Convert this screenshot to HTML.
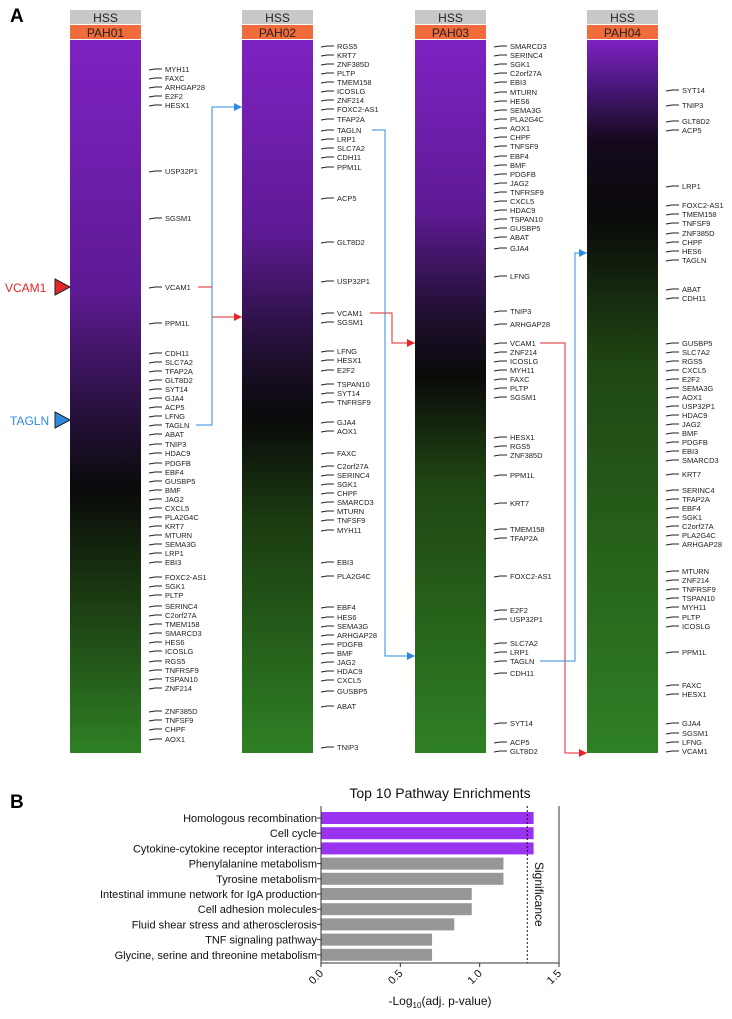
<!DOCTYPE html>
<html><head><meta charset="utf-8"><style>
body{margin:0;background:#fff;font-family:"Liberation Sans",sans-serif;}
svg{display:block}
</style></head><body>
<svg id="fig" width="732" height="1019" viewBox="0 0 732 1019">
<defs>
<linearGradient id="g0" x1="0" y1="0" x2="0" y2="1">
<stop offset="0" stop-color="#7d22c2"/><stop offset="0.35" stop-color="#5e1a94"/><stop offset="0.54" stop-color="#221034"/><stop offset="0.63" stop-color="#0a0a0a"/><stop offset="0.75" stop-color="#17300f"/><stop offset="1" stop-color="#2f8024"/></linearGradient>
<linearGradient id="g1" x1="0" y1="0" x2="0" y2="1">
<stop offset="0" stop-color="#7d22c2"/><stop offset="0.27" stop-color="#5e1a94"/><stop offset="0.43" stop-color="#221034"/><stop offset="0.53" stop-color="#0a0a0a"/><stop offset="0.67" stop-color="#1a3a10"/><stop offset="1" stop-color="#2f8024"/></linearGradient>
<linearGradient id="g2" x1="0" y1="0" x2="0" y2="1">
<stop offset="0" stop-color="#7d22c2"/><stop offset="0.24" stop-color="#5e1a94"/><stop offset="0.38" stop-color="#221034"/><stop offset="0.47" stop-color="#0a0a0a"/><stop offset="0.62" stop-color="#1f4512"/><stop offset="1" stop-color="#2f8024"/></linearGradient>
<linearGradient id="g3" x1="0" y1="0" x2="0" y2="1">
<stop offset="0" stop-color="#7d22c2"/><stop offset="0.06" stop-color="#4e1880"/><stop offset="0.14" stop-color="#150a1e"/><stop offset="0.25" stop-color="#0a0a0a"/><stop offset="0.45" stop-color="#1f4512"/><stop offset="1" stop-color="#2f8024"/></linearGradient>
</defs>
<g id="panelA"></g>
<g id="panelB"></g>
</svg>
<script>
const NS="http://www.w3.org/2000/svg";
function mk(tag,attrs,parent,txt){const e=document.createElementNS(NS,tag);for(const k in attrs)e.setAttribute(k,attrs[k]);if(txt!==undefined)e.textContent=txt;parent.appendChild(e);return e;}
const A=document.getElementById('panelA');
const B=document.getElementById('panelB');

// Panel A data
const samples=["PAH01","PAH02","PAH03","PAH04"];
const colX=[70,242,415,587];
const genes1=[["MYH11",69],["FAXC",78],["ARHGAP28",87],["E2F2",96],["HESX1",105],["USP32P1",171],["SGSM1",218],["VCAM1",287],["PPM1L",323],["CDH11",353],["SLC7A2",362],["TFAP2A",371],["GLT8D2",380],["SYT14",389],["GJA4",398],["ACP5",407],["LFNG",416],["TAGLN",425],["ABAT",434],["TNIP3",444],["HDAC9",453],["PDGFB",463],["EBF4",472],["GUSBP5",481],["BMF",490],["JAG2",499],["CXCL5",508],["PLA2G4C",517],["KRT7",526],["MTURN",535],["SEMA3G",544],["LRP1",553],["EBI3",562],["FOXC2-AS1",577],["SGK1",586],["PLTP",595],["SERINC4",606],["C2orf27A",615],["TMEM158",624],["SMARCD3",633],["HES6",642],["ICOSLG",651],["RGS5",661],["TNFRSF9",670],["TSPAN10",679],["ZNF214",688],["ZNF385D",711],["TNFSF9",720],["CHPF",729],["AOX1",739]];
const genes2=[["RGS5",46],["KRT7",55],["ZNF385D",64],["PLTP",73],["TMEM158",82],["ICOSLG",91],["ZNF214",100],["FOXC2-AS1",109],["TFAP2A",119],["TAGLN",130],["LRP1",139],["SLC7A2",148],["CDH11",157],["PPM1L",167],["ACP5",198],["GLT8D2",242],["USP32P1",281],["VCAM1",313],["SGSM1",322],["LFNG",351],["HESX1",360],["E2F2",370],["TSPAN10",384],["SYT14",393],["TNFRSF9",402],["GJA4",422],["AOX1",431],["FAXC",453],["C2orf27A",466],["SERINC4",475],["SGK1",484],["CHPF",493],["SMARCD3",502],["MTURN",511],["TNFSF9",520],["MYH11",530],["EBI3",562],["PLA2G4C",576],["EBF4",607],["HES6",617],["SEMA3G",626],["ARHGAP28",635],["PDGFB",644],["BMF",653],["JAG2",662],["HDAC9",671],["CXCL5",680],["GUSBP5",691],["ABAT",706],["TNIP3",747]];
const genes3=[["SMARCD3",46],["SERINC4",55],["SGK1",64],["C2orf27A",73],["EBI3",82],["MTURN",92],["HES6",101],["SEMA3G",110],["PLA2G4C",119],["AOX1",128],["CHPF",137],["TNFSF9",146],["EBF4",156],["BMF",165],["PDGFB",174],["JAG2",183],["TNFRSF9",192],["CXCL5",201],["HDAC9",210],["TSPAN10",219],["GUSBP5",228],["ABAT",237],["GJA4",248],["LFNG",276],["TNIP3",311],["ARHGAP28",324],["VCAM1",343],["ZNF214",352],["ICOSLG",361],["MYH11",370],["FAXC",379],["PLTP",388],["SGSM1",397],["HESX1",437],["RGS5",446],["ZNF385D",455],["PPM1L",475],["KRT7",503],["TMEM158",529],["TFAP2A",538],["FOXC2-AS1",576],["E2F2",610],["USP32P1",619],["SLC7A2",643],["LRP1",652],["TAGLN",661],["CDH11",673],["SYT14",723],["ACP5",742],["GLT8D2",751]];
const genes4=[["SYT14",90],["TNIP3",105],["GLT8D2",121],["ACP5",130],["LRP1",186],["FOXC2-AS1",205],["TMEM158",214],["TNFSF9",223],["ZNF385D",233],["CHPF",242],["HES6",251],["TAGLN",260],["ABAT",289],["CDH11",298],["GUSBP5",343],["SLC7A2",352],["RGS5",361],["CXCL5",370],["E2F2",379],["SEMA3G",388],["AOX1",397],["USP32P1",406],["HDAC9",415],["JAG2",424],["BMF",433],["PDGFB",442],["EBI3",451],["SMARCD3",460],["KRT7",474],["SERINC4",490],["TFAP2A",499],["EBF4",508],["SGK1",517],["C2orf27A",526],["PLA2G4C",535],["ARHGAP28",544],["MTURN",571],["ZNF214",580],["TNFRSF9",589],["TSPAN10",598],["MYH11",607],["PLTP",617],["ICOSLG",626],["PPM1L",652],["FAXC",685],["HESX1",694],["GJA4",723],["SGSM1",733],["LFNG",742],["VCAM1",751]];
const geneLists=[genes1,genes2,genes3,genes4];

mk('text',{x:10,y:22,'font-size':19,'font-weight':'bold',fill:'#000',},A,'A');
const BW=71,barTop=40,barBot=753;
samples.forEach((s,i)=>{
  const x=colX[i];
  const g=mk('g',{},A);
  
  
  const h1=mk('rect',{x:x,y:10,width:BW,height:14,fill:'#c8c8c8'},g);
  
  
  mk('text',{x:x+BW/2,y:22,'text-anchor':'middle','font-size':12,fill:'#222'},g,'HSS');
  const h2=mk('rect',{x:x,y:25,width:BW,height:14,fill:'#f26b3a'},g);
  
  
  mk('text',{x:x+BW/2,y:37,'text-anchor':'middle','font-size':12,fill:'#222'},g,s);
  const hb=mk('rect',{x:x,y:barTop,width:BW,height:barBot-barTop,fill:'url(#g'+i+')'},g);
  
  
  geneLists[i].forEach(([n,y])=>{
    const lx=x+BW+8;
    mk('path',{d:`M${lx} ${y+1} L${lx+6} ${y} L${lx+13} ${y}`,stroke:'#222','stroke-width':1,fill:'none'},g);
    const t=mk('text',{x:lx+16,y:y+3,'font-size':7.5,fill:'#222'},g,n);
    
    
  });
});
const m1=mk('path',{d:'M55 279 L70 287 L55 295 Z',fill:'#e3262a',stroke:'#222','stroke-width':1},A);


mk('text',{x:5,y:292,'font-size':12,fill:'#e3262a'},A,'VCAM1');
const m2=mk('path',{d:'M55 412 L70 420 L55 428 Z',fill:'#2c8be0',stroke:'#222','stroke-width':1},A);


mk('text',{x:10,y:425,'font-size':12,fill:'#2c8be0'},A,'TAGLN');
function arrow(pts,col,name){
  const d='M'+pts.map(p=>p.join(' ')).join(' L');
  const p=mk('path',{d:d,stroke:col,'stroke-width':1,fill:'none'},A);
  
  
  const [ex,ey]=pts[pts.length-1];
  mk('path',{d:`M${ex} ${ey} L${ex-8} ${ey-4} L${ex-8} ${ey+4} Z`,fill:col},A);
}
arrow([[198,287],[212,287],[212,317],[242,317]],'#e3262a','vcam1-arrow-1');
arrow([[370,313],[392,313],[392,343],[415,343]],'#e3262a','vcam1-arrow-2');
arrow([[540,343],[565,343],[565,753],[587,753]],'#e3262a','vcam1-arrow-3');
arrow([[196,425],[212,425],[212,107],[242,107]],'#2c8be0','tagln-arrow-1');
arrow([[372,130],[385,130],[385,656],[415,656]],'#2c8be0','tagln-arrow-2');
arrow([[540,661],[575,661],[575,253],[587,253]],'#2c8be0','tagln-arrow-3');

// Panel B data
const pathways=["Homologous recombination","Cell cycle","Cytokine-cytokine receptor interaction","Phenylalanine metabolism","Tyrosine metabolism","Intestinal immune network for IgA production","Cell adhesion molecules","Fluid shear stress and atherosclerosis","TNF signaling pathway","Glycine, serine and threonine metabolism"];
const values=[1.34,1.34,1.34,1.15,1.15,0.95,0.95,0.84,0.70,0.70];
const significant=[true,true,true,false,false,false,false,false,false,false];
const xTicks=[0,0.5,1.0,1.5];
const xTickLabels=["0.0","0.5","1.0","1.5"];
const threshold=1.3;
const px0=321,px1=559,py0=806,py1=963;
const xs=v=>px0+(v/1.5)*(px1-px0);
const yc=i=>818+i*15.2;
mk('text',{x:10,y:808,'font-size':19,'font-weight':'bold',fill:'#000',},B,'B');
mk('text',{x:440,y:798,'text-anchor':'middle','font-size':14,fill:'#111',},B,'Top 10 Pathway Enrichments');
pathways.forEach((p,i)=>{
  const r=mk('rect',{x:xs(0),y:yc(i)-6,width:xs(values[i])-xs(0),height:12,fill:significant[i]?'#9a33f0':'#979797'},B);
  
  
  mk('line',{x1:px0-4,x2:px0,y1:yc(i),y2:yc(i),stroke:'#333'},B);
  const t=mk('text',{x:px0-4,y:yc(i)+4,'text-anchor':'end','font-size':11,fill:'#111'},B,p);
  
  
});
mk('path',{d:`M${px0} ${py0} L${px0} ${py1} L${px1} ${py1} L${px1} ${py0}`,stroke:'#333','stroke-width':1,fill:'none',},B);
xTicks.forEach((v,i)=>{
  mk('line',{x1:xs(v),x2:xs(v),y1:py1,y2:py1+4,stroke:'#333'},B);
  const t=mk('text',{x:xs(v)+3,y:py1+11,'text-anchor':'end','font-size':11,fill:'#111',transform:`rotate(-45 ${xs(v)+3} ${py1+11})`},B,xTickLabels[i]);
  
  
});
mk('line',{x1:xs(threshold),x2:xs(threshold),y1:py0,y2:py1,stroke:'#111','stroke-dasharray':'2 2',},B);
mk('text',{x:535,y:862,'font-size':12,fill:'#111',transform:'rotate(90 535 862)',},B,'Significance');
const xt=mk('text',{x:440,y:1005,'text-anchor':'middle','font-size':12,fill:'#111'},B);


xt.innerHTML='-Log<tspan font-size="8" dy="3">10</tspan><tspan dy="-3">(adj. p-value)</tspan>';
</script>
</body></html>
